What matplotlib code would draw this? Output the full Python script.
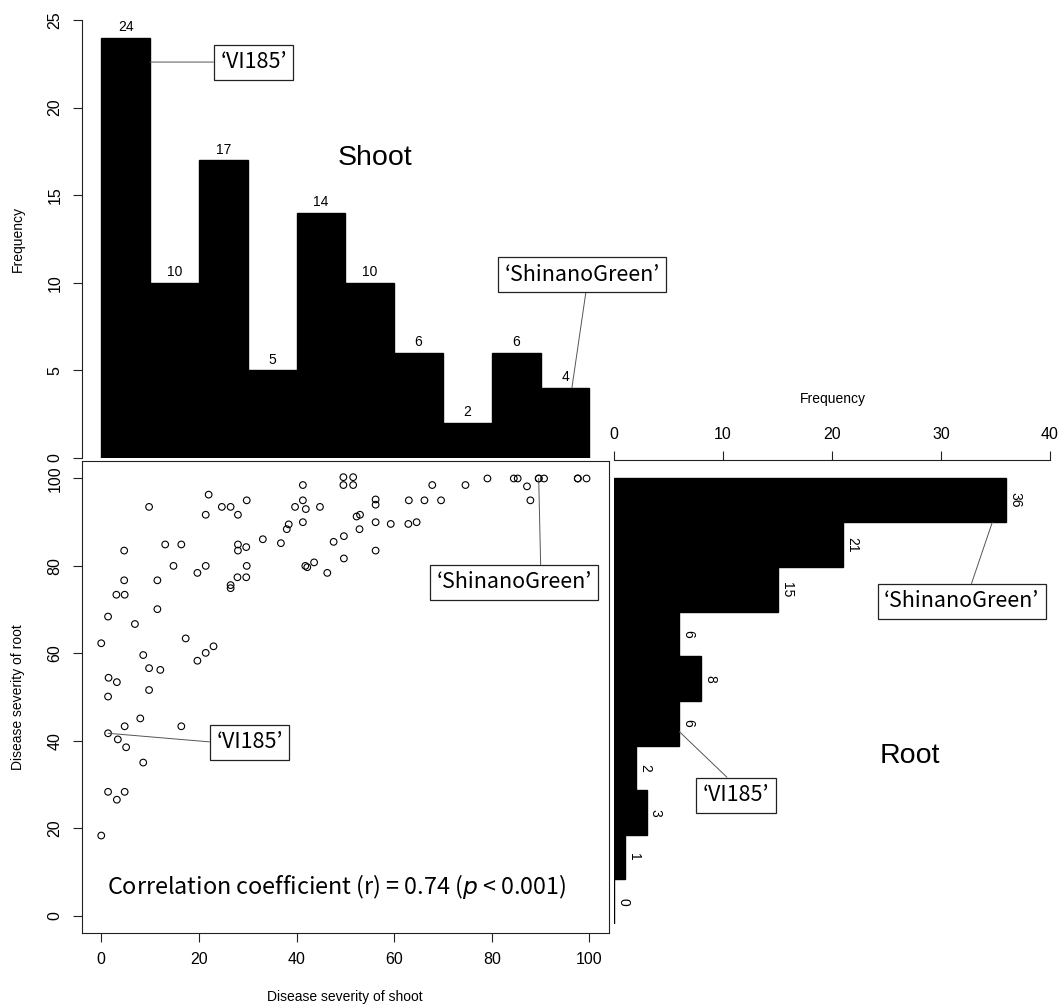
import matplotlib
matplotlib.use('Agg')
import matplotlib.pyplot as plt
from matplotlib import font_manager

# ---------------- data ----------------
shoot = [41.3, 22.0, 29.8, 9.8, 24.7, 26.5, 39.7, 41.3, 41.9, 44.8,
         21.4, 28.0, 41.3, 38.4, 38.0, 33.1, 36.8, 47.6, 13.1, 16.4,
         4.7, 28.0, 29.7, 28.0, 14.8, 21.4, 29.8, 19.7, 41.8, 42.2,
         43.6, 46.3, 4.7, 11.5, 27.9, 29.7, 26.5, 26.5, 3.1, 4.8,
         11.5, 1.4, 6.9, 17.3, 0.0, 8.6, 19.7, 21.4, 23.0, 9.8,
         12.1, 1.5, 3.2, 1.4, 9.8, 8.0, 4.8, 16.4, 1.4, 3.4,
         5.1, 8.6, 1.4, 4.8, 3.2, 0.0, 49.6, 51.6, 49.6, 51.6,
         67.8, 74.6, 79.1, 84.5, 85.3, 87.2, 89.6, 90.7, 97.6, 99.4,
         87.9, 56.2, 56.2, 63.0, 66.2, 69.6, 52.3, 53.0, 52.9, 56.2,
         59.3, 62.9, 64.6, 49.7, 49.7, 56.2, 89.6, 97.6]
root = [98.5, 96.3, 95.0, 93.5, 93.5, 93.5, 93.5, 95.0, 93.0, 93.5,
        91.7, 91.7, 90.0, 89.5, 88.4, 86.1, 85.2, 85.5, 84.9, 84.9,
        83.5, 84.9, 84.3, 83.5, 80.0, 80.0, 80.0, 78.4, 80.0, 79.7,
        80.8, 78.4, 76.7, 76.7, 77.4, 77.4, 75.6, 74.9, 73.4, 73.4,
        70.1, 68.4, 66.7, 63.4, 62.3, 59.6, 58.3, 60.1, 61.6, 56.6,
        56.2, 54.4, 53.4, 50.1, 51.6, 45.1, 43.3, 43.3, 41.7, 40.3,
        38.5, 35.0, 28.3, 28.3, 26.5, 18.3, 100.3, 100.3, 98.5, 98.5,
        98.5, 98.5, 100.0, 100.0, 100.0, 98.2, 100.0, 100.0, 100.0, 100.0,
        95.0, 95.2, 94.0, 95.0, 95.0, 95.0, 91.3, 91.7, 88.4, 90.0,
        89.6, 89.6, 90.0, 86.8, 81.7, 83.5, 100.0, 100.0]

bin_edges = [0, 10, 20, 30, 40, 50, 60, 70, 80, 90, 100]
shoot_counts = [24, 10, 17, 5, 14, 10, 6, 2, 6, 4]
root_counts = [0, 1, 3, 2, 6, 8, 6, 15, 21, 36]

top_yticks = [0, 5, 10, 15, 20, 25]
sc_ticks = [0, 20, 40, 60, 80, 100]
right_xticks = [0, 10, 20, 30, 40]

corr_text = r"Correlation coefficient (r) = 0.74 ($p$ < 0.001)"
cultivar_a = "\u2018VI185\u2019"
cultivar_b = "\u2018ShinanoGreen\u2019"

# ---------------- style ----------------
avail = {f.name for f in font_manager.fontManager.ttflist}
base_font = 'Liberation Sans' if 'Liberation Sans' in avail else 'DejaVu Sans'
anno_font = ['Noto Sans CJK JP', 'DejaVu Sans']
plt.rcParams['font.family'] = [base_font, 'DejaVu Sans']
plt.rcParams['mathtext.fontset'] = 'dejavusans'

axcol = '#222222'
lw = 0.8
tick_fs = 11.5
lab_fs = 10
cnt_fs = 10
anno_fs = 15.5
corr_fs = 16.8

W, H = 1062, 1008
fig = plt.figure(figsize=(W / 100, H / 100), dpi=100)

def px_axes(x0, y0, x1, y1):
    return fig.add_axes([x0 / W, 1 - y1 / H, (x1 - x0) / W, (y1 - y0) / H])

ax_sc = px_axes(81.7, 461, 609, 933)
ax_top = px_axes(81.7, 20, 609, 458)
ax_r = px_axes(614, 460, 1050, 924)

box_kw = dict(boxstyle='square,pad=0.3', fc='white', ec=axcol, lw=0.9)
line_kw = dict(arrowstyle='-', color='#555555', lw=0.7, shrinkA=0, shrinkB=0)

# ---------------- top histogram (shoot) ----------------
ax_top.bar(bin_edges[:-1], shoot_counts, width=10, align='edge',
           color='black', edgecolor='black', lw=1.0)
ax_top.set_xlim(-4, 104)
ax_top.set_ylim(0, 25)
for s in ['top', 'right', 'bottom']:
    ax_top.spines[s].set_visible(False)
ax_top.spines['left'].set_bounds(0, 25)
ax_top.spines['left'].set_color(axcol)
ax_top.spines['left'].set_linewidth(lw)
ax_top.set_xticks([])
ax_top.set_yticks(top_yticks)
ax_top.tick_params(axis='y', direction='out', length=6.2, width=lw, color=axcol,
                   pad=7.5, labelsize=tick_fs)
for t in ax_top.get_yticklabels():
    t.set_rotation(90)
    t.set_va('center')
ax_top.set_ylabel('Frequency', fontsize=lab_fs)
ax_top.yaxis.set_label_coords((25 - 81.7) / (609 - 81.7), 0.5)
for x0, c in zip(bin_edges[:-1], shoot_counts):
    ax_top.annotate(str(c), xy=(x0 + 5, c), xytext=(0, 7.6), textcoords='offset points',
                    ha='center', va='center', fontsize=cnt_fs, annotation_clip=False)
ax_top.text(56.1, 17.1, 'Shoot', fontsize=20.5, ha='center', va='center')
ax_top.annotate(cultivar_a, xy=(10, 22.6), xytext=(31.2, 22.6), textcoords='data',
                ha='center', va='center', fontsize=anno_fs, family=anno_font,
                bbox=box_kw, arrowprops=dict(relpos=(0, 0.5), **line_kw),
                annotation_clip=False)
ax_top.annotate(cultivar_b, xy=(96.4, 4.0), xytext=(98.5, 10.45), textcoords='data',
                ha='center', va='center', fontsize=anno_fs, family=anno_font,
                bbox=box_kw, arrowprops=dict(relpos=(0.53, 0), **line_kw),
                annotation_clip=False)

# ---------------- scatter ----------------
ax_sc.scatter(shoot, root, s=23, facecolors='none', edgecolors='black', linewidths=0.8)
ax_sc.set_xlim(-4, 104)
ax_sc.set_ylim(-4, 104)
ax_sc.set_xticks(sc_ticks)
ax_sc.set_yticks(sc_ticks)
for s in ax_sc.spines.values():
    s.set_color(axcol)
    s.set_linewidth(lw)
ax_sc.tick_params(direction='out', length=6.2, width=lw, color=axcol,
                  pad=7.5, labelsize=tick_fs)
for t in ax_sc.get_yticklabels():
    t.set_rotation(90)
    t.set_va('center')
ax_sc.set_xlabel('Disease severity of shoot', fontsize=lab_fs)
ax_sc.xaxis.set_label_coords(0.4993, (933 - 990) / (933 - 461))
ax_sc.set_ylabel('Disease severity of root', fontsize=lab_fs)
ax_sc.yaxis.set_label_coords((25 - 81.7) / (609 - 81.7), 0.5)
ax_sc.text(48.2, 6.6, corr_text, fontsize=corr_fs, ha='center', va='center',
           family=anno_font)
ax_sc.annotate(cultivar_a, xy=(1.4, 41.7), xytext=(30.4, 39.6), textcoords='data',
               ha='center', va='center', fontsize=anno_fs, family=anno_font,
               bbox=box_kw, arrowprops=dict(relpos=(0, 0.5), **line_kw))
ax_sc.annotate(cultivar_b, xy=(89.6, 100), xytext=(84.5, 76.2), textcoords='data',
               ha='center', va='center', fontsize=anno_fs, family=anno_font,
               bbox=box_kw, arrowprops=dict(relpos=(0.674, 1), **line_kw))

# ---------------- right histogram (root) ----------------
ax_r.barh(bin_edges[:-1], root_counts, height=10, align='edge',
          color='black', edgecolor='black', lw=1.0)
ax_r.set_xlim(0, 40)
ax_r.set_ylim(0, 104)
for s in ['bottom', 'right', 'left']:
    ax_r.spines[s].set_visible(False)
ax_r.spines['top'].set_bounds(0, 40)
ax_r.spines['top'].set_color(axcol)
ax_r.spines['top'].set_linewidth(lw)
ax_r.set_yticks([])
ax_r.xaxis.tick_top()
ax_r.set_xticks(right_xticks)
ax_r.tick_params(axis='x', direction='out', length=6.2, width=lw, color=axcol,
                 pad=7, labelsize=tick_fs)
ax_r.xaxis.set_label_position('top')
ax_r.set_xlabel('Frequency', fontsize=lab_fs)
ax_r.xaxis.set_label_coords((833 - 614) / (1050 - 614), 1 + (460 - 403) / (924 - 460))
for y0, c in zip(bin_edges[:-1], root_counts):
    ax_r.annotate(str(c), xy=(c, y0 + 5), xytext=(6.5, 0), textcoords='offset points',
                  ha='center', va='center', rotation=270, fontsize=cnt_fs,
                  annotation_clip=False)
ax_r.text(27.1, 37.7, 'Root', fontsize=20.5, ha='center', va='center')
ax_r.annotate(cultivar_b, xy=(34.7, 90), xytext=(31.9, 72.3), textcoords='data',
              ha='center', va='center', fontsize=anno_fs, family=anno_font,
              bbox=box_kw, arrowprops=dict(relpos=(0.548, 1), **line_kw))
ax_r.annotate(cultivar_a, xy=(6.0, 43.1), xytext=(11.2, 28.9), textcoords='data',
              ha='center', va='center', fontsize=anno_fs, family=anno_font,
              bbox=box_kw, arrowprops=dict(relpos=(0.47, 1), **line_kw))

fig.savefig('out.png', dpi=100, facecolor='white')
